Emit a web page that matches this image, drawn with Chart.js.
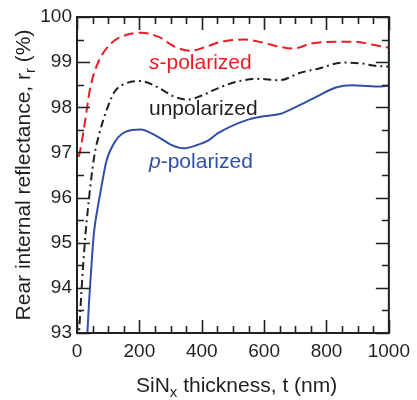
<!DOCTYPE html>
<html>
<head>
<meta charset="utf-8">
<script src="https://cdn.jsdelivr.net/npm/chart.js@4/dist/chart.umd.min.js"></script>
<style>
  html, body { margin: 0; padding: 0; background: #fff; }
  #wrap { width: 417px; height: 400px; }
</style>
</head>
<body>
<div id="wrap"><canvas id="chart" width="417" height="400"></canvas></div>
<script>
// SiNx thickness (nm) and rear internal reflectance (%) per polarization
const tS = [5, 9, 25, 41, 62, 104, 157, 205, 262, 314, 363, 414, 451, 535, 598, 650, 693, 756, 830, 893, 945, 1000];
const rS = [96.9, 97.0, 97.65, 98.38, 98.9, 99.38, 99.6, 99.65, 99.56, 99.34, 99.25, 99.34, 99.43, 99.5, 99.43, 99.34, 99.3, 99.42, 99.45, 99.45, 99.39, 99.32];

const tU = [5, 15, 25, 38, 55, 73, 94, 120, 157, 204, 251, 314, 356, 400, 451, 514, 577, 650, 714, 776, 851, 914, 956, 1000];
const rU = [92.8, 94.0, 95.0, 95.95, 96.9, 97.45, 97.92, 98.34, 98.53, 98.58, 98.47, 98.23, 98.17, 98.26, 98.42, 98.57, 98.63, 98.6, 98.76, 98.86, 98.99, 98.97, 98.92, 98.9];

const tP = [31, 39, 46, 54, 67, 80, 94, 125, 157, 204, 251, 304, 341, 388, 420, 451, 546, 598, 650, 703, 767, 830, 882, 934, 967, 1000];
const rP = [92.7, 93.73, 94.46, 95.2, 95.8, 96.3, 96.8, 97.27, 97.46, 97.51, 97.38, 97.16, 97.09, 97.17, 97.26, 97.42, 97.72, 97.8, 97.85, 98.01, 98.23, 98.44, 98.49, 98.47, 98.46, 98.48];

const xTicks = [0, 200, 400, 600, 800, 1000];
const yTicks = [93, 94, 95, 96, 97, 98, 99, 100];

const FONT = "'Liberation Sans', Arial, sans-serif";
const INK = "#231f20";
const RED = "#ec1c24";
const BLUE = "#3050a8";

const pts = (xs, ys) => xs.map((x, i) => ({ x, y: ys[i] }));

// inward ticks on all four sides plus the frame
const frameTicks = {
  id: "frameTicks",
  afterDatasetsDraw(chart) {
    const { ctx, chartArea: a, scales: { x, y } } = chart;
    ctx.save();
    ctx.strokeStyle = INK;
    ctx.lineWidth = 1.6;
    ctx.beginPath();
    for (let v = 0; v <= 1000; v += 50) {
      const px = Math.round(x.getPixelForValue(v)) + 0.5;
      const len = v % 200 === 0 ? 13 : 7;
      ctx.moveTo(px, a.bottom); ctx.lineTo(px, a.bottom - len);
      ctx.moveTo(px, a.top); ctx.lineTo(px, a.top + len);
    }
    for (let v = 93; v <= 100; v += 0.5) {
      const py = Math.round(y.getPixelForValue(v)) + 0.5;
      const len = Number.isInteger(v) ? 13 : 7;
      ctx.moveTo(a.left, py); ctx.lineTo(a.left + len, py);
      ctx.moveTo(a.right, py); ctx.lineTo(a.right - len, py);
    }
    ctx.stroke();
    ctx.lineWidth = 2;
    ctx.strokeRect(a.left, a.top, a.right - a.left, a.bottom - a.top);
    ctx.restore();
  }
};

// text pieces: [text, font, dy]
function drawRuns(ctx, x, y, runs, color) {
  ctx.fillStyle = color;
  let cx = x;
  for (const [txt, font, dy] of runs) {
    ctx.font = font;
    ctx.fillText(txt, cx, y + (dy || 0));
    cx += ctx.measureText(txt).width;
  }
  return cx - x;
}
function runsWidth(ctx, runs) {
  let w = 0;
  for (const [txt, font] of runs) { ctx.font = font; w += ctx.measureText(txt).width; }
  return w;
}

const labels = {
  id: "labels",
  afterDraw(chart) {
    const { ctx, chartArea: a } = chart;
    ctx.save();
    ctx.textBaseline = "alphabetic";
    ctx.textAlign = "left";
    const f = "21px " + FONT, fs = "15px " + FONT;

    // axis titles
    const xRuns = [["SiN", f], ["x", fs, 5], [" thickness, t (nm)", f]];
    const xw = runsWidth(ctx, xRuns);
    drawRuns(ctx, 136, 392, xRuns, INK);

    const yRuns = [["Rear internal reflectance, r", f], ["r", fs, 5], [" (%)", f]];
    const yw = runsWidth(ctx, yRuns);
    ctx.save();
    ctx.translate(30, 175);
    ctx.rotate(-Math.PI / 2);
    drawRuns(ctx, -yw / 2, 0, yRuns, INK);
    ctx.restore();

    // series names
    drawRuns(ctx, 149, 69, [["s", "italic 21px " + FONT], ["-polarized", "21px " + FONT]], RED);
    drawRuns(ctx, 149, 115, [["unpolarized", "21px " + FONT]], INK);
    drawRuns(ctx, 149, 168, [["p", "italic 21px " + FONT], ["-polarized", "21px " + FONT]], BLUE);
    ctx.restore();
  }
};

new Chart(document.getElementById("chart"), {
  type: "line",
  data: {
    datasets: [
      { label: "s-polarized", data: pts(tS, rS), borderColor: RED, borderDash: [10, 5], borderWidth: 2 },
      { label: "unpolarized", data: pts(tU, rU), borderColor: INK, borderDash: [8, 4, 2, 4], borderWidth: 2 },
      { label: "p-polarized", data: pts(tP, rP), borderColor: BLUE, borderWidth: 2 },
    ]
  },
  options: {
    responsive: false,
    animation: false,
    parsing: false,
    elements: { point: { radius: 0 }, line: { cubicInterpolationMode: "monotone", fill: false } },
    layout: { padding: { left: 0, top: 17, right: 23, bottom: 0 } },
    plugins: { legend: { display: false }, tooltip: { enabled: false } },
    scales: {
      x: {
        type: "linear", min: 0, max: 1000,
        afterBuildTicks: s => { s.ticks = xTicks.map(v => ({ value: v })); },
        afterFit: s => { s.height = 67; },
        grid: { display: false, drawTicks: false }, border: { display: false },
        ticks: { color: INK, font: { family: FONT, size: 19 }, padding: 7, maxRotation: 0, callback: v => String(v) }
      },
      y: {
        type: "linear", min: 93, max: 100,
        afterBuildTicks: s => { s.ticks = yTicks.map(v => ({ value: v })); },
        afterFit: s => { s.width = 77; },
        grid: { display: false, drawTicks: false }, border: { display: false },
        ticks: { color: INK, font: { family: FONT, size: 19 }, padding: 5, callback: v => String(v) }
      }
    }
  },
  plugins: [frameTicks, labels]
});
</script>
</body>
</html>
